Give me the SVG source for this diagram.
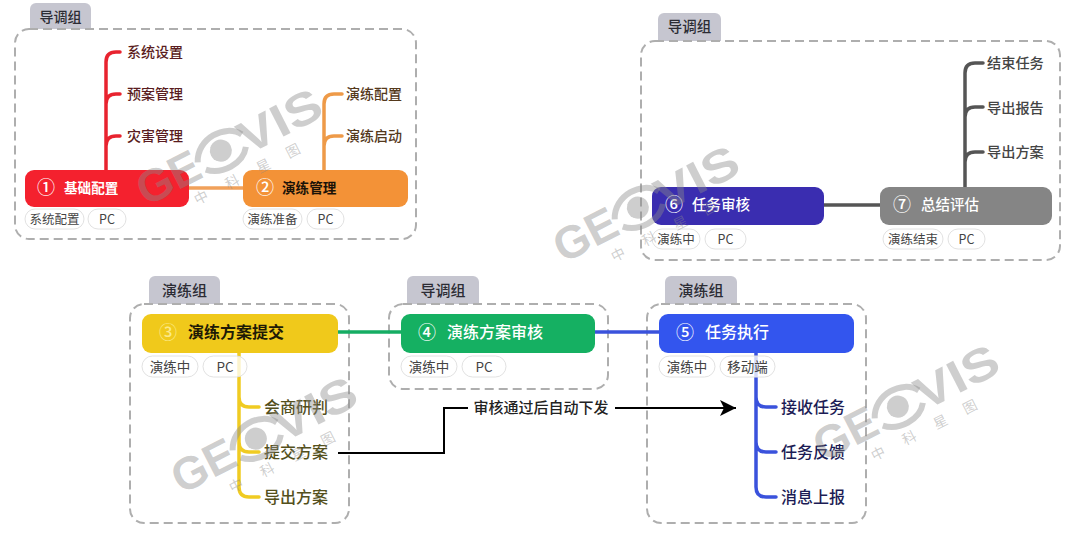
<svg xmlns="http://www.w3.org/2000/svg" width="1080" height="533" viewBox="0 0 1080 533">
<style>
text{font-family:"Noto Sans CJK SC","Noto Sans",sans-serif}
.zone{fill:none;stroke:#aeaeae;stroke-width:2;stroke-dasharray:9 5}
.tab{fill:#c6c6d0}
.tabt{font-size:15px;fill:#2c2c34;text-anchor:middle;font-weight:500}
.node{stroke:none}
.num{font-size:18px;fill:#fff;text-anchor:middle;font-weight:500}
.lab{font-weight:700;fill:#fff}
.tag{fill:#fff;fill-opacity:.78;stroke:#e2e2e2;stroke-width:1}
.tagt{font-size:12.5px;fill:#444;text-anchor:middle}
.tree{fill:none;stroke-width:3.5;stroke-linecap:round}
.link{fill:none;stroke-width:3.5}
.leaf{font-size:14px;font-weight:500}
.leaf2{font-size:16px;font-weight:500}
.wm{fill:#8a8a8a;fill-opacity:.42}
.wmc{font-size:14px;fill:#8a8a8a;fill-opacity:.42;text-anchor:middle}
</style>
<defs>
<marker id="arr" markerUnits="userSpaceOnUse" markerWidth="18" markerHeight="16" refX="16" refY="8" orient="auto"><path d="M0 0L16 8L0 16L4 8Z" fill="#000"/></marker>
<g id="wmk">
<text class="wm" x="-100" y="16" font-size="46" style="font-family:'Liberation Sans',sans-serif;font-weight:700" textLength="66" lengthAdjust="spacingAndGlyphs">GE</text>
<path d="M-34 0C-24-22 8-22 18-5" fill="none" stroke="#8a8a8a" stroke-opacity=".42" stroke-width="6"/>
<path d="M-30 10C-18 22 6 22 16 8" fill="none" stroke="#8a8a8a" stroke-opacity=".42" stroke-width="6"/>
<circle cx="-8" cy="0" r="11" fill="#8a8a8a" fill-opacity=".42"/>
<text class="wm" x="14" y="16" font-size="46" style="font-family:'Liberation Sans',sans-serif;font-weight:700" textLength="88" lengthAdjust="spacingAndGlyphs">VIS</text>
<text class="wmc" x="-47" y="38">中</text><text class="wmc" x="-12" y="38">科</text><text class="wmc" x="23" y="38">星</text><text class="wmc" x="56" y="38">图</text>
</g>
</defs>
<rect width="1080" height="533" fill="#fff"/>

<g id="zones">
<path class="tab" d="M30 29V9a6 6 0 0 1 6-6h49a6 6 0 0 1 6 6V29Z"/>
<text class="tabt" x="60.500" y="22" style="font-size:14px">导调组</text>
<rect class="zone" x="15" y="29" width="401" height="210" rx="14"/>
<path class="tab" d="M658 41V19a6 6 0 0 1 6-6h51a6 6 0 0 1 6 6V41Z"/>
<text class="tabt" x="689.500" y="32" style="font-size:14.500px">导调组</text>
<rect class="zone" x="641" y="41" width="419" height="219" rx="14"/>
<path class="tab" d="M149 304V282a6 6 0 0 1 6-6h59a6 6 0 0 1 6 6V304Z"/>
<text class="tabt" x="184.500" y="296">演练组</text>
<rect class="zone" x="130" y="304" width="219" height="219" rx="14"/>
<path class="tab" d="M407 304V282a6 6 0 0 1 6-6h60a6 6 0 0 1 6 6V304Z"/>
<text class="tabt" x="443" y="296">导调组</text>
<rect class="zone" x="389" y="304" width="219" height="85" rx="14"/>
<path class="tab" d="M665 304V282a6 6 0 0 1 6-6h60a6 6 0 0 1 6 6V304Z"/>
<text class="tabt" x="701" y="296">演练组</text>
<rect class="zone" x="647" y="304" width="219" height="219" rx="14"/>
</g>

<g id="connectors">
<path class="link" stroke="#f1a15a" d="M189 188H243"/>
<path class="link" stroke="#555" d="M824 205H880"/>
<path class="link" stroke="#15ad63" d="M338 332H401"/>
<path class="link" stroke="#3a52dc" d="M595 332H659"/>
<path class="tree" stroke="#e8232f" d="M106 170V62Q106 52 116 52H120M106 104Q106 94 116 94H120M106 146Q106 136 116 136H120"/>
<path class="tree" stroke="#ee9a48" d="M324 170V104Q324 94 334 94H342M324 146Q324 136 334 136H342"/>
<path class="tree" stroke="#555" d="M965 187V73Q965 63 975 63H983M965 117Q965 107 975 107H983M965 162Q965 152 975 152H983"/>
<path class="tree" stroke="#f0cb22" d="M239 353V487Q239 497 249 497H259M239 397Q239 407 249 407H259M239 442Q239 452 249 452H259"/>
<path class="tree" stroke="#3a52dc" d="M756 353V487Q756 497 766 497H776M756 397Q756 407 766 407H776M756 442Q756 452 766 452H776"/>
<path fill="none" stroke="#000" stroke-width="2" d="M338 453H444V408H468"/>
<path fill="none" stroke="#000" stroke-width="2" d="M615 408H736" marker-end="url(#arr)"/>
</g>
<text x="541" y="413" font-size="15" fill="#222" text-anchor="middle" font-weight="500">审核通过后自动下发</text>

<g id="node1">
<rect class="node" x="25" y="170" width="164" height="37" rx="9" fill="#f4212e"/>
<text class="num" x="46" y="194">①</text><text class="lab" x="64" y="193" font-size="13.600">基础配置</text>
<rect class="tag" x="25" y="209" width="59" height="20" rx="10"/><text class="tagt" x="54.500" y="224">系统配置</text>
<rect class="tag" x="88" y="209" width="38" height="20" rx="10"/><text class="tagt" x="107" y="224">PC</text>
<g fill="#5a1c20" class="leaf"><text x="127" y="57">系统设置</text><text x="127" y="99">预案管理</text><text x="127" y="141">灾害管理</text></g>
</g>
<g id="node2">
<rect class="node" x="243" y="170" width="165" height="37" rx="9" fill="#f39237"/>
<text class="num" x="265" y="194">②</text><text class="lab" x="282" y="193" font-size="13.600" style="fill:#1a1208">演练管理</text>
<rect class="tag" x="243" y="209" width="59" height="20" rx="10"/><text class="tagt" x="272.500" y="224">演练准备</text>
<rect class="tag" x="307" y="209" width="37" height="20" rx="10"/><text class="tagt" x="325.500" y="224">PC</text>
<g fill="#55391c" class="leaf"><text x="346" y="99">演练配置</text><text x="346" y="141">演练启动</text></g>
</g>
<g id="node3">
<rect class="node" x="142" y="314" width="196" height="39" rx="9" fill="#f0c91b"/>
<text class="num" x="168" y="339" style="fill:#fbe98a">③</text><text class="lab" x="188" y="338" font-size="16" style="fill:#1e1a06">演练方案提交</text>
<rect class="tag" x="142" y="356" width="56" height="21" rx="10.500"/><text class="tagt" x="170" y="372" style="font-size:13.500px">演练中</text>
<rect class="tag" x="203" y="356" width="44" height="21" rx="10.500"/><text class="tagt" x="225" y="372" style="font-size:13.500px">PC</text>
<g fill="#54501c" class="leaf2"><text x="264" y="413">会商研判</text><text x="264" y="458">提交方案</text><text x="264" y="503">导出方案</text></g>
</g>
<g id="node4">
<rect class="node" x="401" y="314" width="194" height="39" rx="9" fill="#15b062"/>
<text class="num" x="427" y="339">④</text><text class="lab" x="447" y="338" font-size="16" style="font-weight:500">演练方案审核</text>
<rect class="tag" x="401" y="356" width="56" height="21" rx="10.500"/><text class="tagt" x="429" y="372" style="font-size:13.500px">演练中</text>
<rect class="tag" x="462" y="356" width="44" height="21" rx="10.500"/><text class="tagt" x="484" y="372" style="font-size:13.500px">PC</text>
</g>
<g id="node5">
<rect class="node" x="659" y="314" width="195" height="39" rx="9" fill="#3355ee"/>
<text class="num" x="685" y="339">⑤</text><text class="lab" x="705" y="338" font-size="16" style="font-weight:500">任务执行</text>
<rect class="tag" x="659" y="356" width="56" height="21" rx="10.500"/><text class="tagt" x="687" y="372" style="font-size:13.500px">演练中</text>
<rect class="tag" x="720" y="356" width="55" height="21" rx="10.500"/><text class="tagt" x="747.500" y="372" style="font-size:13.500px">移动端</text>
<g fill="#1c1c55" class="leaf2"><text x="781" y="413">接收任务</text><text x="781" y="458">任务反馈</text><text x="781" y="503">消息上报</text></g>
</g>
<g id="node6">
<rect class="node" x="652" y="187" width="172" height="38" rx="9" fill="#3a2db0"/>
<text class="num" x="674" y="211">⑥</text><text class="lab" x="692" y="210" font-size="14.500" style="font-weight:500">任务审核</text>
<rect class="tag" x="652" y="229" width="48" height="20" rx="10"/><text class="tagt" x="676" y="244">演练中</text>
<rect class="tag" x="705" y="229" width="41" height="20" rx="10"/><text class="tagt" x="725.500" y="244">PC</text>
</g>
<g id="node7">
<rect class="node" x="880" y="187" width="172" height="38" rx="9" fill="#858585"/>
<text class="num" x="902" y="211">⑦</text><text class="lab" x="921" y="210" font-size="14.500" style="font-weight:500">总结评估</text>
<rect class="tag" x="883" y="229" width="60" height="20" rx="10"/><text class="tagt" x="913" y="244">演练结束</text>
<rect class="tag" x="948" y="229" width="37" height="20" rx="10"/><text class="tagt" x="966.500" y="244">PC</text>
<g fill="#444" class="leaf" style="font-size:14.200px"><text x="987" y="68">结束任务</text><text x="987" y="113">导出报告</text><text x="987" y="157">导出方案</text></g>
</g>

<g id="watermarks">
<use href="#wmk" transform="translate(228 147) rotate(-27)"/>
<use href="#wmk" transform="translate(645 204) rotate(-27)"/>
<use href="#wmk" transform="translate(263 435) rotate(-27)"/>
<use href="#wmk" transform="translate(905 403) rotate(-27)"/>
</g>
</svg>
